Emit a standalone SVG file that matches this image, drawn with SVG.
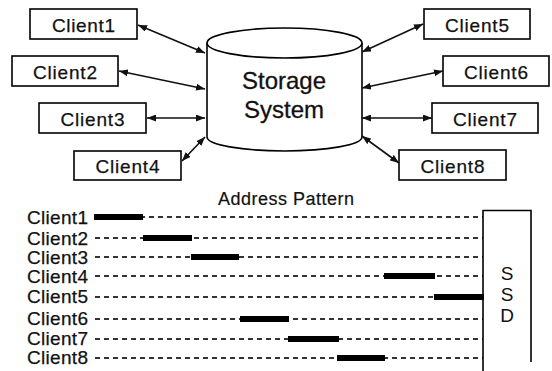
<svg xmlns="http://www.w3.org/2000/svg" width="552" height="371" viewBox="0 0 552 371">
  <style>
    .box { fill: #fff; stroke: #000; stroke-width: 1.6; }
    .lbl { font-family: "Liberation Sans", Arial, sans-serif; font-size: 19px; fill: #111; stroke: #111; stroke-width: 0.25; }
    .title { font-family: "Liberation Sans", Arial, sans-serif; font-size: 18px; fill: #111; stroke: #111; stroke-width: 0.2; }
    .big { font-family: "Liberation Sans", Arial, sans-serif; font-size: 24px; fill: #111; stroke: #111; stroke-width: 0.3; text-anchor: middle; }
    .ssd { font-family: "Liberation Sans", Arial, sans-serif; font-size: 19px; fill: #111; text-anchor: middle; }
    .link { stroke: #111; stroke-width: 1.6; fill: none; marker-start: url(#head); marker-end: url(#head); }
    .addr { stroke: #333; stroke-width: 2; stroke-dasharray: 5 4; fill: none; }
    .bar { fill: #000; }
  </style>
  <defs>
    <marker id="head" markerUnits="userSpaceOnUse" markerWidth="9" markerHeight="7" refX="9" refY="3.5" orient="auto-start-reverse">
      <path d="M0,0 L9,3.5 L0,7 z" fill="#111"/>
    </marker>
  </defs>

  <rect width="552" height="371" fill="#fff"/>

  <!-- central storage cylinder -->
  <g id="storage">
    <path d="M207,43 L207,137 A77.5,14 0 0 0 362,137 L362,43" fill="#fff" stroke="#000" stroke-width="1.6"/>
    <ellipse cx="284.5" cy="43" rx="77.5" ry="15" fill="#fff" stroke="#000" stroke-width="1.6"/>
    <text class="big" x="284" y="89">Storage</text>
    <text class="big" x="284" y="118">System</text>
  </g>

  <!-- clients around the storage -->
  <g id="client1"><rect class="box" x="30" y="9" width="107" height="30"/><text class="lbl" x="83.5" y="32" text-anchor="middle" textLength="63">Client1</text></g>
  <g id="client2"><rect class="box" x="12" y="56" width="106" height="30"/><text class="lbl" x="65" y="79" text-anchor="middle" textLength="64">Client2</text></g>
  <g id="client3"><rect class="box" x="39" y="103" width="107" height="30"/><text class="lbl" x="92.5" y="126" text-anchor="middle" textLength="64">Client3</text></g>
  <g id="client4"><rect class="box" x="74" y="151" width="107" height="29"/><text class="lbl" x="127.5" y="173" text-anchor="middle" textLength="64">Client4</text></g>
  <g id="client5"><rect class="box" x="424" y="9" width="106" height="30"/><text class="lbl" x="477" y="32" text-anchor="middle" textLength="64">Client5</text></g>
  <g id="client6"><rect class="box" x="443" y="56" width="106" height="30"/><text class="lbl" x="496" y="79" text-anchor="middle" textLength="64">Client6</text></g>
  <g id="client7"><rect class="box" x="432" y="103" width="106" height="30"/><text class="lbl" x="485" y="126" text-anchor="middle" textLength="64">Client7</text></g>
  <g id="client8"><rect class="box" x="399" y="150" width="107" height="30"/><text class="lbl" x="452.5" y="173" text-anchor="middle" textLength="64">Client8</text></g>

  <!-- request links -->
  <g id="links">
    <line class="link" x1="138" y1="25" x2="205" y2="53"/>
    <line class="link" x1="119" y1="71" x2="205" y2="89"/>
    <line class="link" x1="147" y1="118" x2="205" y2="118"/>
    <line class="link" x1="182" y1="161" x2="205" y2="137"/>
    <line class="link" x1="362" y1="52" x2="423" y2="24"/>
    <line class="link" x1="362" y1="88" x2="443" y2="71"/>
    <line class="link" x1="362" y1="118" x2="432" y2="118"/>
    <line class="link" x1="362" y1="136" x2="399" y2="163"/>
  </g>

  <!-- address pattern chart -->
  <text class="title" x="218" y="205" textLength="136">Address Pattern</text>

  <g id="rows">
    <text class="lbl" x="27" y="224" textLength="61">Client1</text>
    <text class="lbl" x="27" y="245" textLength="61">Client2</text>
    <text class="lbl" x="27" y="264" textLength="61">Client3</text>
    <text class="lbl" x="27" y="283" textLength="61">Client4</text>
    <text class="lbl" x="27" y="303" textLength="61">Client5</text>
    <text class="lbl" x="27" y="325" textLength="61">Client6</text>
    <text class="lbl" x="27" y="345" textLength="61">Client7</text>
    <text class="lbl" x="27" y="364" textLength="61">Client8</text>
  </g>

  <g id="address-lines">
    <line class="addr" x1="95" y1="217" x2="483" y2="217"/>
    <line class="addr" x1="95" y1="238" x2="483" y2="238"/>
    <line class="addr" x1="95" y1="257" x2="483" y2="257"/>
    <line class="addr" x1="95" y1="276" x2="483" y2="276"/>
    <line class="addr" x1="95" y1="297" x2="483" y2="297"/>
    <line class="addr" x1="95" y1="319" x2="483" y2="319"/>
    <line class="addr" x1="95" y1="339" x2="483" y2="339"/>
    <line class="addr" x1="95" y1="358" x2="483" y2="358"/>
  </g>

  <g id="address-ranges">
    <rect class="bar" x="94" y="214" width="49" height="6"/>
    <rect class="bar" x="143" y="235" width="49" height="6"/>
    <rect class="bar" x="191" y="254" width="48" height="6"/>
    <rect class="bar" x="384" y="273" width="51" height="6"/>
    <rect class="bar" x="434" y="294" width="50" height="6"/>
    <rect class="bar" x="240" y="316" width="49" height="6"/>
    <rect class="bar" x="288" y="336" width="51" height="6"/>
    <rect class="bar" x="337" y="355" width="48" height="6"/>
  </g>

  <!-- SSD -->
  <g id="ssd">
    <path d="M483,371 V210.5 H531 V362" fill="none" stroke="#000" stroke-width="1.6"/>
    <text class="ssd" x="507" y="280">S</text>
    <text class="ssd" x="507" y="301">S</text>
    <text class="ssd" x="507" y="322">D</text>
  </g>
</svg>
